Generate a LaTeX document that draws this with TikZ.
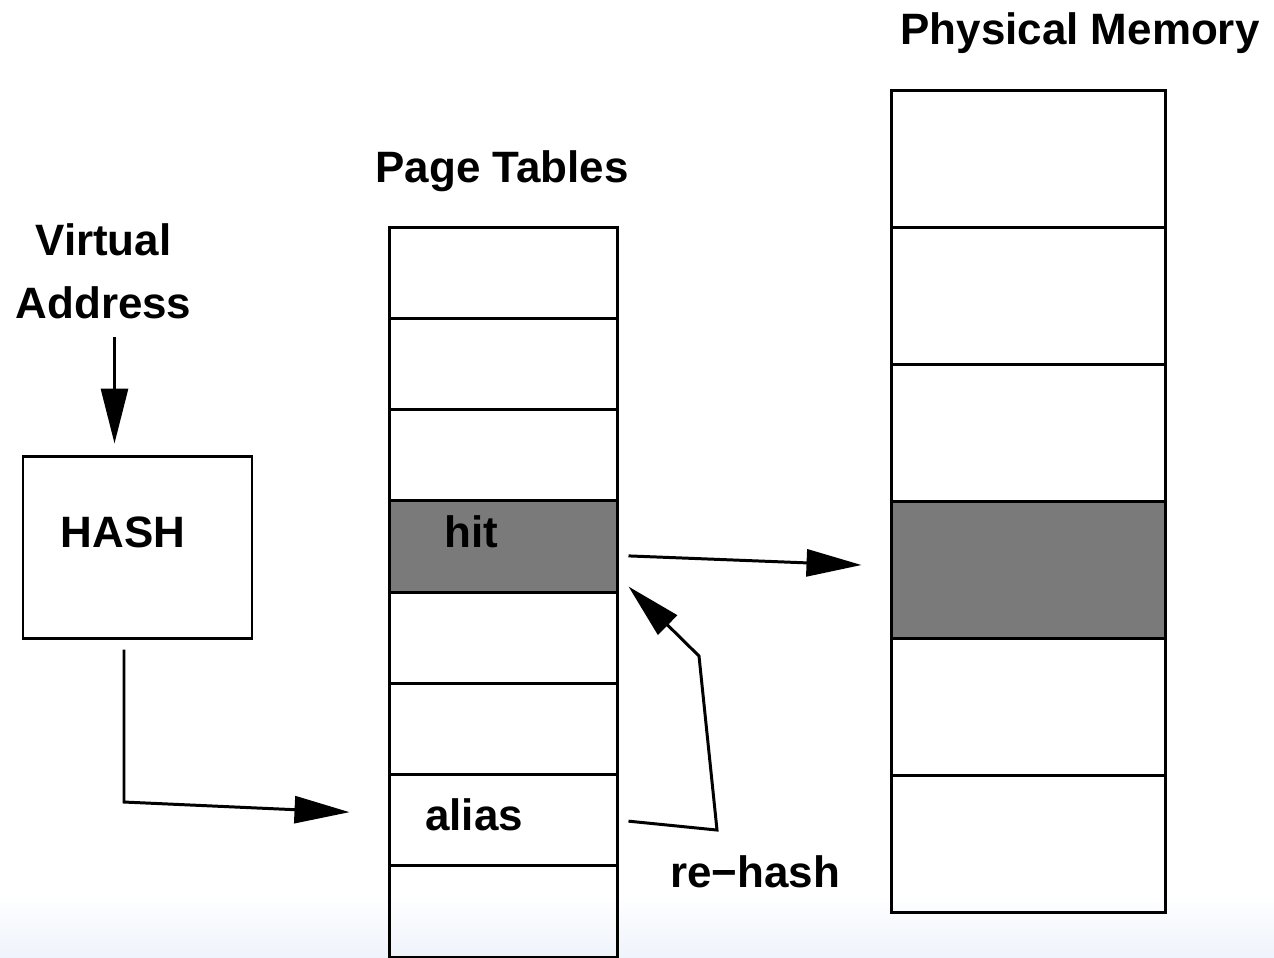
\documentclass[tikz,border=0pt]{standalone}
\usepackage{fontspec}
\setmainfont{Liberation Sans}
\usepackage{tikz}
\usetikzlibrary{arrows.meta}

\definecolor{hitgray}{RGB}{122,122,122}
\definecolor{slidefoot}{RGB}{239,243,251}

\tikzset{
	cell/.style={draw, line width=0.85pt, inner sep=0pt},
	lbl/.style={anchor=base, inner sep=0pt, font=\bfseries\fontsize{12.5}{17.9}\selectfont},
	arr/.style={line width=0.85pt, -{Triangle[length=5.5mm, width=2.7mm]}},
	wire/.style={line width=0.85pt}
}

\begin{document}
\begin{tikzpicture}
		%%%%% START %%%%%
		
		\useasboundingbox (0, 0) rectangle (12.74, -9.57);
		\shade[top color=white, bottom color=slidefoot] (0, -8.95) rectangle (12.74, -9.57);
		
		% page tables
		\foreach \i/\f in {1/none, 2/none, 3/none, 4/hitgray, 5/none, 6/none, 7/none, 8/none}
			\node[cell, fill=\f, minimum width=2.28cm, minimum height=0.9125cm] (pt\i) at (5.03, {-2.27-0.9125*(\i-0.5)}) {};
		
		% physical memory
		\foreach \i/\f in {1/none, 2/none, 3/none, 4/hitgray, 5/none, 6/none}
			\node[cell, fill=\f, minimum width=2.74cm, minimum height=1.37cm] (pm\i) at (10.28, {-0.90-1.37*(\i-0.5)}) {};
		
		\node[cell, minimum width=2.29cm, minimum height=1.82cm] (hash) at (1.375, -5.47) {};
		
		\node[lbl] (pmtitle) at (10.80, -0.44) {Physical Memory};
		\node[lbl] (pttitle) at (5.02, -1.82) {Page Tables};
		\node[lbl, align=center] (va) at (1.035, -3.18) {Virtual\\Address};
		\node[lbl] (hashtxt) at (1.23, -5.47) {HASH};
		\node[lbl] (hittxt) at (4.71, -5.47) {hit};
		\node[lbl] (aliastxt) at (4.74, -8.30) {alias};
		\node[lbl] (rehashtxt) at (7.55, -8.87) {re−hash};
		
		% connectors
		\coordinate (vatail) at (1.145, -3.37);
		\draw[arr] (vatail) -- ([xshift=-2.3mm, yshift=1.1mm]hash.north);
		
		\draw[arr] ([xshift=-1.35mm, yshift=-1mm]hash.south) -- (1.24, -8.02) -- ([xshift=-3.8mm, yshift=0.8mm]pt7.west);
		
		\draw[arr] ([xshift=1mm, yshift=-0.95mm]pt4.east) -- ([xshift=-2.8mm, yshift=0.45mm]pm4.west);
		
		\draw[arr] ([xshift=1mm, yshift=-0.1mm]pt7.east) -- (7.17, -8.30) -- (6.99, -6.56) -- ([xshift=1mm, yshift=0.7mm]pt4.south east);
		
		%%%%% END %%%%%
	\end{tikzpicture}
\end{document}
